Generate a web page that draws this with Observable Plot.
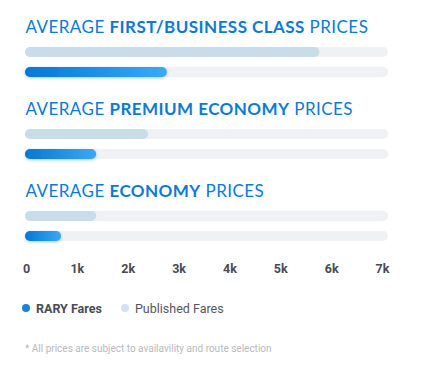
<!DOCTYPE html>
<html>
<head>
<meta charset="utf-8">
<script src="https://cdn.jsdelivr.net/npm/d3@7"></script>
<script src="https://cdn.jsdelivr.net/npm/@observablehq/plot@0.6"></script>
<style>
  html, body { margin: 0; padding: 0; background: #fff; }
  #wrap { width: 436px; position: relative; font-family: Roboto, "Open Sans", sans-serif; }
  .legend { display: flex; align-items: center; height: 20px; margin-top: 16px; padding-left: 22px; font-size: 12.5px; }
  .legend .item { display: flex; align-items: center; margin-right: 19px; }
  .legend .dot { width: 8px; height: 8px; border-radius: 50%; margin-right: 6px; }
  .note { margin-top: 25px; padding-left: 25px; font-size: 10px; color: #b9b9bd; }
</style>
</head>
<body>
<div id="wrap"></div>
<script>
// ---- data ----
const groups = ["FIRST/BUSINESS CLASS", "PREMIUM ECONOMY", "ECONOMY"];
const publishedFares = [5770, 2400, 1380];
const raryFares = [2770, 1380, 690];
const ticks = [0, 1000, 2000, 3000, 4000, 5000, 6000, 7000];
const tickLabels = ["0", "1k", "2k", "3k", "4k", "5k", "6k", "7k"];
const seriesNames = ["RARY Fares", "Published Fares"];

const rows = groups.flatMap((g, i) => [
  {group: g, series: "Published Fares", value: publishedFares[i]},
  {group: g, series: "RARY Fares", value: raryFares[i]}
]);
const maxTick = d3.max(ticks);
const blue = "#0b7ad4";

const chart = Plot.plot({
  width: 436,
  height: 282,
  marginLeft: 26,
  marginRight: 54,
  marginTop: 0,
  marginBottom: 0,
  style: {background: "transparent", overflow: "visible"},
  x: {domain: [0, maxTick], axis: null, label: null},
  y: {domain: ["title", "Published Fares", "RARY Fares"], range: [2, 62], paddingInner: 0.5, paddingOuter: 0.25, round: false, axis: null},
  fy: {domain: groups, range: [20, 266], padding: 0, round: false, axis: null},
  marks: [
    Plot.barX(rows, {fy: "group", y: "series", x1: 0, x2: () => maxTick, fill: "#f0f1f4", rx: 5, insetLeft: -1, insetRight: -6}),
    Plot.barX(rows.filter(d => d.series === "Published Fares"), {fy: "group", y: "series", x1: 0, x2: "value", fill: "#c9dcea", rx: 5, insetLeft: -1}),
    Plot.barX(rows.filter(d => d.series === "RARY Fares"), {fy: "group", y: "series", x1: 0, x2: "value", fill: "url(#raryGrad)", rx: 5, insetLeft: -1, ariaDescription: "rary"}),
    Plot.text(groups, {fy: d => d, y: () => "title", x: () => 0, text: d => `AVERAGE ${d} PRICES`, textAnchor: "start", lineAnchor: "middle", dx: -1, dy: -5, fontSize: 17, fill: blue, ariaDescription: "title"}),
    Plot.axisX(ticks, {anchor: "bottom", label: null, tickSize: 0, tickPadding: -2, tickFormat: d => tickLabels[ticks.indexOf(d)], fontSize: 12.5, fontWeight: 700, fill: "#4a4a58", fontFamily: "Roboto"})
  ]
});

const svg = d3.select(chart);
const defs = svg.insert("defs", ":first-child");
const grad = defs.append("linearGradient").attr("id", "raryGrad").attr("x1", "0%").attr("x2", "100%").attr("y1", "0%").attr("y2", "0%");
grad.append("stop").attr("offset", "0%").attr("stop-color", "#0577d5");
grad.append("stop").attr("offset", "100%").attr("stop-color", "#3aa9f5");
const filt = defs.append("filter").attr("id", "glow").attr("x", "-20%").attr("y", "-100%").attr("width", "140%").attr("height", "300%");
filt.append("feDropShadow").attr("dx", 0).attr("dy", 1).attr("stdDeviation", 1.8).attr("flood-color", "#2a94ee").attr("flood-opacity", 0.45);
svg.selectAll('g[aria-description="rary"] rect').attr("filter", "url(#glow)");

svg.selectAll('g[aria-description="title"] text').each(function() {
  const t = this.textContent;
  const m = t.match(/^(AVERAGE )(.*)( PRICES)$/);
  if (!m) return;
  const el = d3.select(this).text("")
    .attr("font-family", "Lato, 'Open Sans', sans-serif")
    .attr("letter-spacing", "0.45px")
    .attr("xml:space", "preserve");
  el.append("tspan").attr("font-weight", 400).text(m[1]);
  el.append("tspan").attr("font-weight", 700).text(m[2]);
  el.append("tspan").attr("font-weight", 400).text(m[3]);
});

const wrap = document.getElementById("wrap");
wrap.appendChild(chart);

const colors = {"RARY Fares": "#1484e0", "Published Fares": "#d3e2f1"};
const legend = d3.select(wrap).append("div").attr("class", "legend");
seriesNames.forEach(s => {
  const it = legend.append("div").attr("class", "item");
  it.append("div").attr("class", "dot").style("background", colors[s]);
  it.append("span").text(s)
    .style("font-weight", s === "RARY Fares" ? 700 : 400)
    .style("color", s === "RARY Fares" ? "#4a4a58" : "#55555f");
});
d3.select(wrap).append("div").attr("class", "note").text("* All prices are subject to availavility and route selection");
</script>
</body>
</html>
